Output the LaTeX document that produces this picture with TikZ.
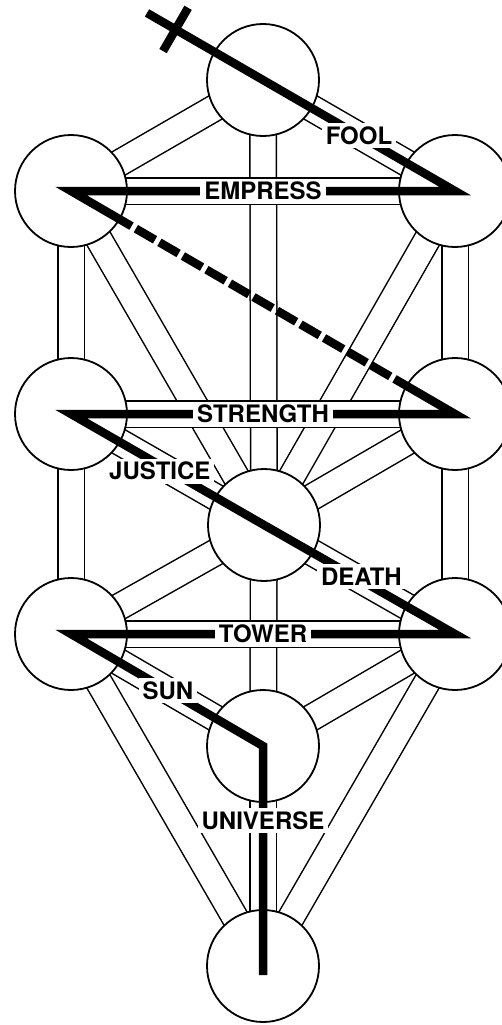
\documentclass[tikz,border=0pt]{standalone}
\usepackage{fontspec}
\setmainfont{TeX Gyre Heros}
\usetikzlibrary{calc,backgrounds}

\begin{document}
\begin{tikzpicture}[x=1pt, y=-1pt, sephira/.style={draw, circle, fill=white, line width=1.8pt, minimum size=112pt, inner sep=0pt}, channel/.style={line width=1.5pt, double=white, double distance=25pt}, flash/.style={line width=8.5pt, line join=miter, miter limit=10}, pathlabel/.style={fill=white, inner xsep=4pt, inner ysep=4pt, text height=17pt, text depth=0pt, font=\fontsize{24}{24}\selectfont\bfseries}]
        \useasboundingbox (0,0) rectangle (502,1025);
        % the ten sephiroth
        \node[sephira] (kether) at (263,80) {};
        \node[sephira] (binah) at (71,191) {};
        \node[sephira] (chokmah) at (455,191) {};
        \node[sephira] (geburah) at (71,414) {};
        \node[sephira] (chesed) at (455,414) {};
        \node[sephira] (tiphareth) at (264,525) {};
        \node[sephira] (hod) at (71,634) {};
        \node[sephira] (netzach) at (455,634) {};
        \node[sephira] (yesod) at (263,746) {};
        \node[sephira] (malkuth) at (263,966) {};
        % the 22 paths, horizontal ones last so they lie on top
        \begin{scope}[on background layer]
            \foreach \a/\b in {kether/binah, kether/chokmah, kether/tiphareth, binah/geburah, binah/tiphareth, chokmah/chesed, chokmah/tiphareth, geburah/tiphareth, chesed/tiphareth, geburah/hod, chesed/netzach, tiphareth/hod, tiphareth/netzach, tiphareth/yesod, hod/yesod, netzach/yesod, hod/malkuth, netzach/malkuth, yesod/malkuth, binah/chokmah, geburah/chesed, hod/netzach}
                \draw[channel] (\a.center) -- (\b.center);
        \end{scope}
        % lightning flash
        \coordinate (flame) at ($(kether.center)!-134pt!(chokmah.center)$);
        \coordinate (crux) at ($(flame)!33pt!(kether.center)$);
        \coordinate (barleft) at ($(crux)!25pt!90:(kether.center)$);
        \coordinate (barright) at ($(crux)!25pt!-90:(kether.center)$);
        \coordinate (dashstart) at ($(binah.center)!70pt!(chesed.center)$);
        \coordinate (dashend) at ($(chesed.center)!70pt!(binah.center)$);
        \coordinate (ground) at ($(malkuth.center)+(0,9)$);
        \draw[flash] (barleft) -- (barright);
        \draw[flash] (flame) -- (kether.center) -- (chokmah.center) -- (binah.center) -- (dashstart);
        \draw[flash, dash pattern=on 22.2pt off 5pt, dash phase=22.2pt] (dashstart) -- (dashend);
        \draw[flash] (dashend) -- (chesed.center) -- (geburah.center) -- (tiphareth.center) -- (netzach.center) -- (hod.center) -- (yesod.center) -- (ground);
        % labels
        \path (kether.center) -- (chokmah.center) node[pathlabel, pos=0.5] (fool) {FOOL};
        \path (binah.center) -- (chokmah.center) node[pathlabel, pos=0.5] (empress) {EMPRESS};
        \path (geburah.center) -- (chesed.center) node[pathlabel, pos=0.5] (strength) {STRENGTH};
        \path (geburah.center) -- (tiphareth.center) node[pathlabel, pos=0.46, yshift=-6pt] (justice) {JUSTICE};
        \path (tiphareth.center) -- (netzach.center) node[pathlabel, pos=0.51, yshift=4pt] (death) {DEATH};
        \path (hod.center) -- (netzach.center) node[pathlabel, pos=0.5] (tower) {TOWER};
        \path (hod.center) -- (yesod.center) node[pathlabel, pos=0.505] (sun) {SUN};
        \path (yesod.center) -- (malkuth.center) node[pathlabel, pos=0.34] (universe) {UNIVERSE};
    \end{tikzpicture}
\end{document}
